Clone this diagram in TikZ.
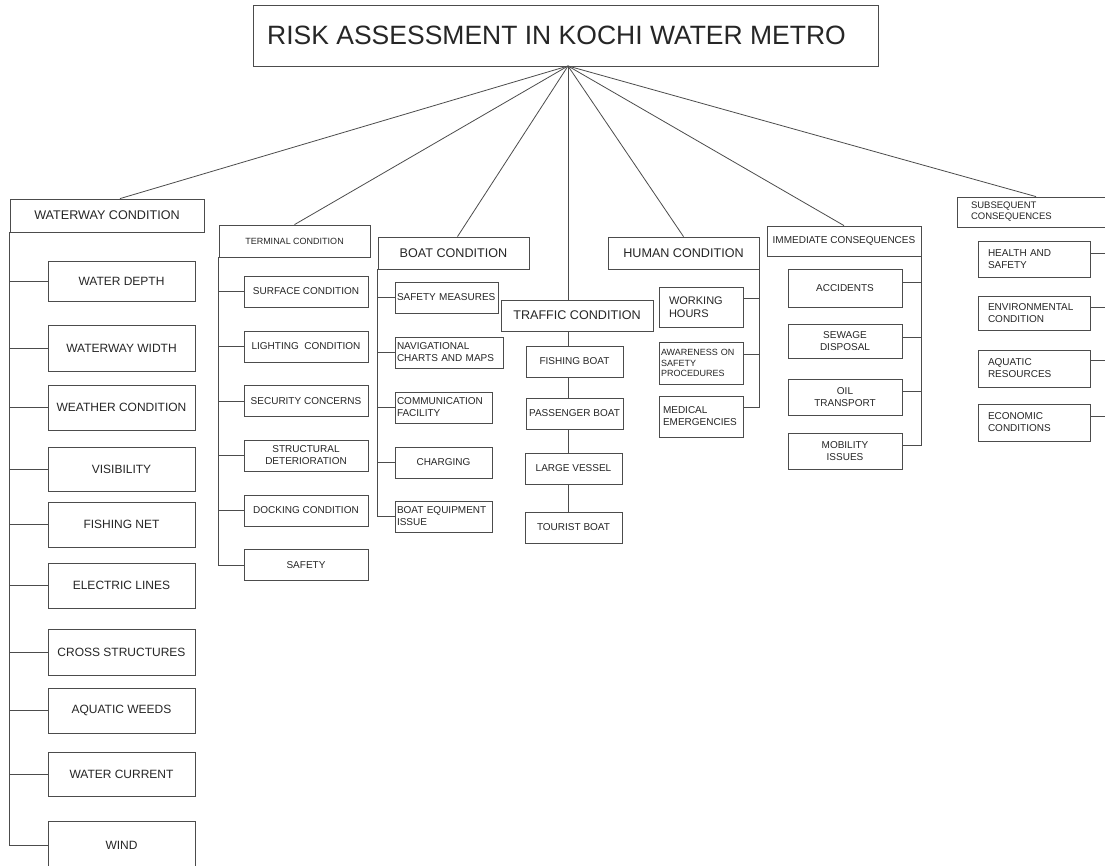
\documentclass[tikz,border=0pt]{standalone}
\usepackage{fontspec}
\setmainfont{Liberation Sans}
\usetikzlibrary{calc}

\begin{document}
\begin{tikzpicture}[
  x=1pt, y=-1pt,
  box/.style={draw=black!70, line width=0.8pt, fill=white, inner sep=2pt, text=black!85},
  titlebox/.style={box, minimum width=625pt, minimum height=61pt, font=\fontsize{26.5}{30}\selectfont},
  head/.style={box, minimum width=151pt, minimum height=32pt, font=\fontsize{12.6}{14}\selectfont},
  wleaf/.style={box, minimum width=147pt, minimum height=45pt, font=\fontsize{12}{14}\selectfont},
  leaf/.style={box, minimum height=31pt, align=center, font=\fontsize{10}{12}\selectfont},
  lleaf/.style={leaf, align=left, text width=#1},
  link/.style={draw=black!70, line width=0.8pt}
]

\useasboundingbox (0,0) rectangle (1105,866);
\clip (0,0) rectangle (1105,866);
\fill[white] (0,0) rectangle (1105,866);

% Root
\node[titlebox] (root) at (565.5,35.5) {RISK ASSESSMENT IN KOCHI WATER METRO\hspace*{18pt}};
\coordinate (hub) at (568,66);

% Waterway condition
\node[head, minimum width=194pt, minimum height=33pt] (ww) at (107,215.5) {WATERWAY CONDITION};
\node[wleaf, minimum height=40pt] (depth) at (121.5,281) {WATER DEPTH};
\node[wleaf, minimum height=46pt] (wwidth) at (121.5,348) {WATERWAY WIDTH};
\node[wleaf] (weather) at (121.5,407.5) {WEATHER CONDITION};
\node[wleaf, minimum height=44pt] (visib) at (121.5,469) {VISIBILITY};
\node[wleaf] (net) at (121.5,524.5) {FISHING NET};
\node[wleaf] (elines) at (121.5,585.5) {ELECTRIC LINES};
\node[wleaf, minimum height=46pt] (cross) at (121.5,652) {CROSS STRUCTURES};
\node[wleaf] (weeds) at (121.5,710.5) {AQUATIC WEEDS};
\node[wleaf, minimum height=44pt] (current) at (121.5,774) {WATER CURRENT};
\node[wleaf, minimum height=49pt] (wind) at (121.5,845.5) {WIND};

% Terminal condition
\node[head, font=\fontsize{9}{11}\selectfont] (term) at (294.5,241) {TERMINAL CONDITION};
\node[leaf, minimum width=124pt] (surface) at (306,291.5) {SURFACE CONDITION};
\node[leaf, minimum width=124pt] (lighting) at (306,346.5) {LIGHTING~ CONDITION};
\node[leaf, minimum width=124pt] (security) at (306,401) {SECURITY CONCERNS};
\node[leaf, minimum width=124pt] (struct) at (306,455.5) {STRUCTURAL\\DETERIORATION};
\node[leaf, minimum width=124pt] (docking) at (306,510.5) {DOCKING CONDITION};
\node[leaf, minimum width=124pt] (tsafety) at (306,565) {SAFETY};

% Boat condition
\node[head] (boat) at (453.5,253) {BOAT CONDITION};
\node[lleaf=99pt] (measures) at (446.5,297.5) {SAFETY MEASURES};
\node[lleaf=104pt] (charts) at (449,352.5) {NAVIGATIONAL\\CHARTS AND MAPS};
\node[lleaf=93pt] (comm) at (443.5,407.5) {COMMUNICATION\\FACILITY};
\node[leaf, minimum width=97pt] (charging) at (443.5,462.5) {CHARGING};
\node[lleaf=93pt] (equip) at (443.5,516.5) {BOAT EQUIPMENT\\ISSUE};

% Traffic condition
\node[head, minimum width=152pt, minimum height=31pt] (traffic) at (577,315.5) {TRAFFIC CONDITION};
\node[leaf, minimum width=97pt] (fishing) at (574.5,361.5) {FISHING BOAT};
\node[leaf, minimum width=97pt] (passenger) at (574.5,413.5) {PASSENGER BOAT};
\node[leaf, minimum width=97pt] (vessel) at (573.5,468.5) {LARGE VESSEL};
\node[leaf, minimum width=97pt] (tourist) at (573.5,527.5) {TOURIST BOAT};

% Human condition
\node[head] (human) at (683.5,253) {HUMAN CONDITION};
\node[lleaf=64pt, inner xsep=10pt, minimum height=40pt, font=\fontsize{11}{13}\selectfont] (hours) at (701,307) {WORKING\\HOURS};
\node[lleaf=80pt, minimum height=42pt, font=\fontsize{9}{10.5}\selectfont] (aware) at (701,363) {AWARENESS ON\\SAFETY\\PROCEDURES};
\node[lleaf=76pt, inner xsep=4pt, minimum height=41pt] (medical) at (701,416.5) {MEDICAL\\EMERGENCIES};

% Immediate consequences
\node[head, minimum width=154pt, minimum height=30pt, font=\fontsize{10}{12}\selectfont] (immed) at (844,241) {IMMEDIATE CONSEQUENCES};
\node[leaf, minimum width=114pt, minimum height=38pt] (accidents) at (845,288) {ACCIDENTS};
\node[leaf, minimum width=114pt, minimum height=34pt] (sewage) at (845,341) {SEWAGE\\DISPOSAL};
\node[leaf, minimum width=114pt, minimum height=36pt] (oil) at (845,397) {OIL\\TRANSPORT};
\node[leaf, minimum width=114pt, minimum height=36pt] (mobility) at (845,451) {MOBILITY\\ISSUES};

% Subsequent consequences
\node[head, minimum height=30pt, align=left, text width=130pt, inner xsep=14pt, font=\fontsize{9.5}{11}\selectfont] (subseq) at (1036,212) {SUBSEQUENT\\CONSEQUENCES};
\node[lleaf=92pt, inner xsep=10pt, minimum height=36pt] (health) at (1034,259) {HEALTH AND\\SAFETY};
\node[lleaf=92pt, inner xsep=10pt, minimum height=34pt] (environ) at (1034,313) {ENVIRONMENTAL\\CONDITION};
\node[lleaf=92pt, inner xsep=10pt, minimum height=37pt] (aquatic) at (1034,368.5) {AQUATIC\\RESOURCES};
\node[lleaf=92pt, inner xsep=10pt, minimum height=37pt] (economic) at (1034,422.5) {ECONOMIC\\CONDITIONS};

% Lines from root
\draw[link] (hub) -- ($(ww.north)+(13,0)$);
\draw[link] (hub) -- (term.north);
\draw[link] (hub) -- ($(boat.north)+(4,0)$);
\draw[link] (hub) -- (hub |- traffic.north);
\draw[link] (hub) -- (human.north);
\draw[link] (hub) -- (immed.north);
\draw[link] (hub) -- (subseq.north);

% Waterway branches
\draw[link] (ww.south west) |- (depth.west);
\draw[link] (ww.south west) |- (wwidth.west);
\draw[link] (ww.south west) |- (weather.west);
\draw[link] (ww.south west) |- (visib.west);
\draw[link] (ww.south west) |- (net.west);
\draw[link] (ww.south west) |- (elines.west);
\draw[link] (ww.south west) |- (cross.west);
\draw[link] (ww.south west) |- (weeds.west);
\draw[link] (ww.south west) |- (current.west);
\draw[link] (ww.south west) |- (wind.west);

% Terminal branches
\draw[link] (term.south west) |- (surface.west);
\draw[link] (term.south west) |- (lighting.west);
\draw[link] (term.south west) |- (security.west);
\draw[link] (term.south west) |- (struct.west);
\draw[link] (term.south west) |- (docking.west);
\draw[link] (term.south west) |- (tsafety.west);

% Boat branches
\draw[link] (boat.south west) |- (measures.west);
\draw[link] (boat.south west) |- (charts.west);
\draw[link] (boat.south west) |- (comm.west);
\draw[link] (boat.south west) |- (charging.west);
\draw[link] (boat.south west) |- (equip.west);

% Traffic chain
\draw[link] (hub |- traffic.south) -- (hub |- fishing.north);
\draw[link] (hub |- fishing.south) -- (hub |- passenger.north);
\draw[link] (hub |- passenger.south) -- (hub |- vessel.north);
\draw[link] (hub |- vessel.south) -- (hub |- tourist.north);

% Human branches
\draw[link] (human.south east) |- ($(hours.east)+(0,-9)$);
\draw[link] (human.south east) |- ($(aware.east)+(0,-9)$);
\draw[link] (human.south east) |- ($(medical.east)+(0,-9)$);

% Immediate branches
\draw[link] (immed.south east) |- ($(accidents.east)+(0,-6)$);
\draw[link] (immed.south east) |- ($(sewage.east)+(0,-4)$);
\draw[link] (immed.south east) |- ($(oil.east)+(0,-6)$);
\draw[link] (immed.south east) |- ($(mobility.east)+(0,-6)$);

% Subsequent branches
\draw[link] (subseq.south east) |- ($(health.east)+(0,-6)$);
\draw[link] (subseq.south east) |- ($(environ.east)+(0,-6)$);
\draw[link] (subseq.south east) |- ($(aquatic.east)+(0,-8)$);
\draw[link] (subseq.south east) |- ($(economic.east)+(0,-6)$);

\end{tikzpicture}
\end{document}
